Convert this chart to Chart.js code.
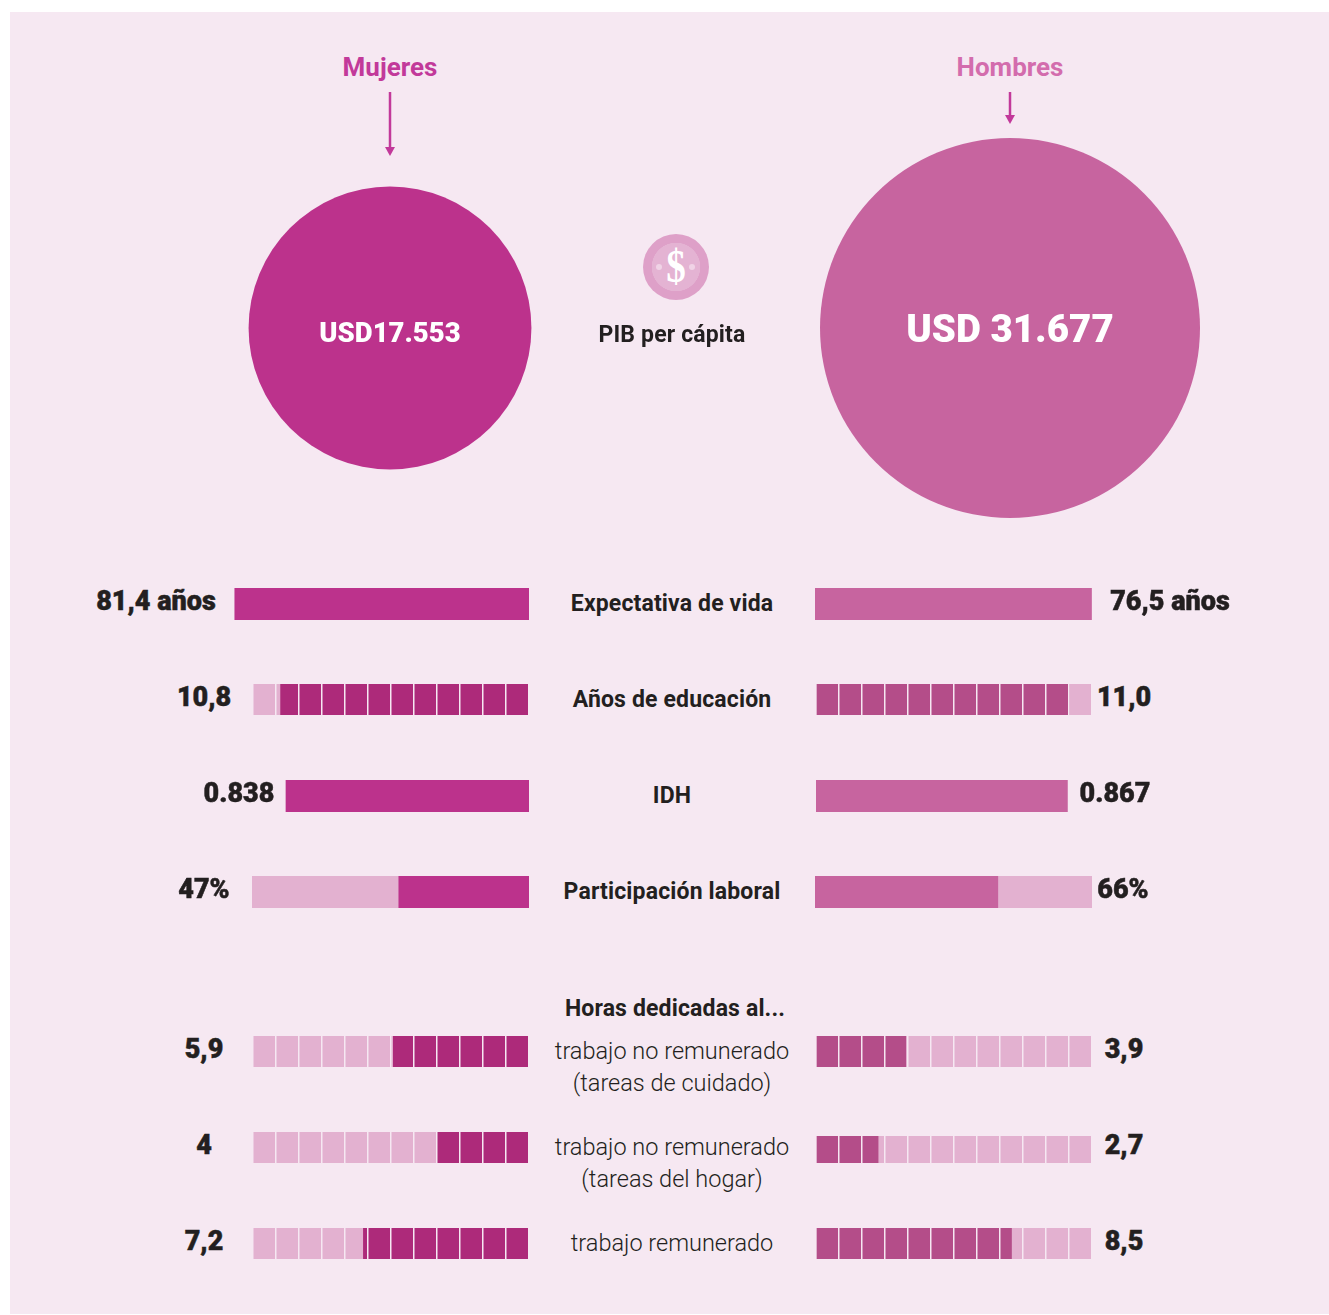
<!DOCTYPE html>
<html lang="es">
<head>
<meta charset="utf-8">
<title>PIB per cápita</title>
<script src="https://cdn.jsdelivr.net/npm/chart.js@4/dist/chart.umd.min.js"></script>
<style>
    html, body { margin: 0; background: #fff; }
    #page { position: relative; width: 1329px; height: 1315px; overflow: hidden; font-family: Roboto, sans-serif; }
    #panel { position: absolute; left: 10px; top: 12px; width: 1319px; height: 1302px; background: #f6e8f2; }
    canvas { position: absolute; display: block; }
    .t { position: absolute; transform: translate(-50%, -50%); white-space: nowrap; line-height: 1; color: #231f20; }
    .head { font-size: 26px; font-weight: 700; }
    .name { font-size: 23px; font-weight: 700; letter-spacing: 0.15px; }
    .sub { font-size: 23.5px; font-weight: 300; }
    .val { font-size: 27px; font-weight: 900; -webkit-text-stroke: 0.5px #231f20; }
    .usd { color: #fff; font-weight: 900; }
    #coin { position: absolute; left: 643px; top: 234px; width: 66px; height: 66px; border-radius: 50%;
        background: radial-gradient(circle, #e4b3d3 0 24px, #dea0c8 24.5px); }
    #coin i { position: absolute; top: 30px; width: 6px; height: 6px; border-radius: 50%; background: #f0d3e6; }
    #coin b { position: absolute; left: 0; right: 0; top: 7px; text-align: center; color: #fff;
        font: 700 46px/52px "Liberation Serif", serif; transform: scaleX(0.85); }
</style>
</head>
<body>
<div id="page">
    <div id="panel"></div>
    <div id="coin"><i style="left:13px"></i><i style="left:46px"></i><b>$</b></div>
    <svg width="1329" height="170" style="position:absolute;left:0;top:0">
        <line x1="390" y1="92" x2="390" y2="150" stroke="#c2399a" stroke-width="2.5"/>
        <path d="M385 147h10l-5 9z" fill="#c2399a"/>
        <line x1="1010" y1="92" x2="1010" y2="118" stroke="#c2399a" stroke-width="2.5"/>
        <path d="M1005 115h10l-5 9z" fill="#c2399a"/>
    </svg>
</div>
<script>
const gdpLabels = ['USD17.553', 'USD 31.677'];
const gdpValues = [17553, 31677];

const rowNames = ['Expectativa de vida', 'Años de educación', 'IDH', 'Participación laboral'];
const hourNames = [
    ['trabajo no remunerado', '(tareas de cuidado)'],
    ['trabajo no remunerado', '(tareas del hogar)'],
    ['trabajo remunerado']
];

const womenValues = [81.4, 10.8, 0.838, 47, 5.9, 4, 7.2];
const menValues = [76.5, 11.0, 0.867, 66, 3.9, 2.7, 8.5];
const womenLabels = ['81,4 años', '10,8', '0.838', '47%', '5,9', '4', '7,2'];
const menLabels = ['76,5 años', '11,0', '0.867', '66%', '3,9', '2,7', '8,5'];

// axis end for each row, and whether the row shows the pale track / the unit squares
const rowMax = [83, 12, 1, 100, 12, 12, 12];
const rowTrack = [false, true, false, true, true, true, true];
const rowSquares = [false, true, false, false, true, true, true];

const WOMEN = '#bc328c', MEN = '#c7649f';
const WOMEN_SQ = '#ad2a7a', MEN_SQ = '#b44d89';
const TRACK = '#e3b1d0', BG = '#f6e8f2';

const page = document.getElementById('page');

function addText(text, x, y, cls, style) {
    const el = document.createElement('div');
    el.className = 't ' + cls;
    el.textContent = text;
    el.style.left = x + 'px';
    el.style.top = y + 'px';
    Object.assign(el.style, style || {});
    page.appendChild(el);
}

function addCanvas(left, top, width, height) {
    const c = document.createElement('canvas');
    c.width = width;
    c.height = height;
    c.style.left = left + 'px';
    c.style.top = top + 'px';
    page.appendChild(c);
    return c.getContext('2d');
}

function renderGdpChart() {
    // bubble charts pad the plot area by the largest radius on every side
    const ctx = addCanvas(200, 128, 1000, 400);
    new Chart(ctx, {
        type: 'bubble',
        data: {
            datasets: [{
                // area of each circle follows the value
                data: gdpValues.map((v, i) => ({ x: i, y: 0, r: Math.sqrt(v) * 1.0675 })),
                backgroundColor: [WOMEN, MEN],
                borderWidth: 0,
                clip: false
            }]
        },
        options: {
            responsive: false,
            animation: false,
            events: [],
            layout: { padding: 0 },
            plugins: { legend: { display: false }, tooltip: { enabled: false } },
            scales: {
                x: { display: false, min: 0, max: 1 },
                y: { display: false, min: -1, max: 1 }
            }
        }
    });
}

function renderRow(i, value, left, top, width, height, color, squareColor, reverse) {
    const ctx = addCanvas(left, top, width, height);
    const datasets = [{
        data: [value],
        backgroundColor: rowSquares[i] ? squareColor : color,
        grouped: false
    }];
    if (rowTrack[i]) {
        datasets.push({ data: [rowMax[i]], backgroundColor: TRACK, grouped: false });
    }
    new Chart(ctx, {
        type: 'bar',
        data: { labels: [i < 4 ? rowNames[i] : hourNames[i - 4][0]], datasets: datasets },
        options: {
            indexAxis: 'y',
            responsive: false,
            animation: false,
            events: [],
            barPercentage: 1,
            categoryPercentage: 1,
            layout: { padding: 0 },
            plugins: { legend: { display: false }, tooltip: { enabled: false } },
            scales: {
                x: {
                    display: rowSquares[i],
                    min: 0,
                    max: rowMax[i],
                    reverse: reverse,
                    border: { display: false },
                    ticks: { display: false, stepSize: 1, autoSkip: false },
                    grid: { color: BG, lineWidth: 1.5, drawTicks: false, z: 1 }
                },
                y: { display: false }
            }
        }
    });
}

function renderRows() {
    // px box of each row: [left column left, right column left, width, top, height]
    const boxes = [
        [229, 815, 300, 588, 32],
        [253, 816, 276, 684, 31],
        [239, 816, 290, 780, 32],
        [252, 815, 277, 876, 32],
        [253, 816, 276, 1036, 31],
        [253, 816, 276, 1132, 31],
        [253, 816, 276, 1228, 31]
    ];
    boxes.forEach((b, i) => {
        renderRow(i, womenValues[i], b[0], b[3], b[2], b[4], WOMEN, WOMEN_SQ, true);
        // the men's 2,7 row is a little shorter in the original
        const top = i === 5 ? b[3] + 4 : b[3];
        const h = i === 5 ? b[4] - 4 : b[4];
        renderRow(i, menValues[i], b[1], top, b[2], h, MEN, MEN_SQ, false);
    });
}

function renderTexts() {
    addText('Mujeres', 390, 67, 'head', { color: '#c2399a' });
    addText('Hombres', 1010, 67, 'head', { color: '#d36cad' });
    addText(gdpLabels[0], 390, 333, 'usd', { fontSize: '27.5px' });
    addText(gdpLabels[1], 1010, 329, 'usd', { fontSize: '38.5px' });
    addText('PIB per cápita', 672, 334, 'name');

    const leftX = [156, 204, 239, 204, 204, 204, 204];
    const rightX = [1170, 1124, 1115, 1123, 1124, 1124, 1124];
    const rowY = [601, 697, 793, 889, 1049, 1145, 1241];
    rowY.forEach((y, i) => {
        addText(womenLabels[i], leftX[i], y, 'val');
        addText(menLabels[i], rightX[i], y, 'val');
    });

    rowNames.forEach((name, i) => addText(name, 672, 603 + i * 96, 'name'));
    addText('Horas dedicadas al...', 675, 1008, 'name');
    hourNames.forEach((lines, i) => {
        lines.forEach((line, j) => addText(line, 672, 1052 + i * 96 + j * 32, 'sub'));
    });
}

document.addEventListener('DOMContentLoaded', () => {
    renderGdpChart();
    renderRows();
    renderTexts();
});
</script>
</body>
</html>
